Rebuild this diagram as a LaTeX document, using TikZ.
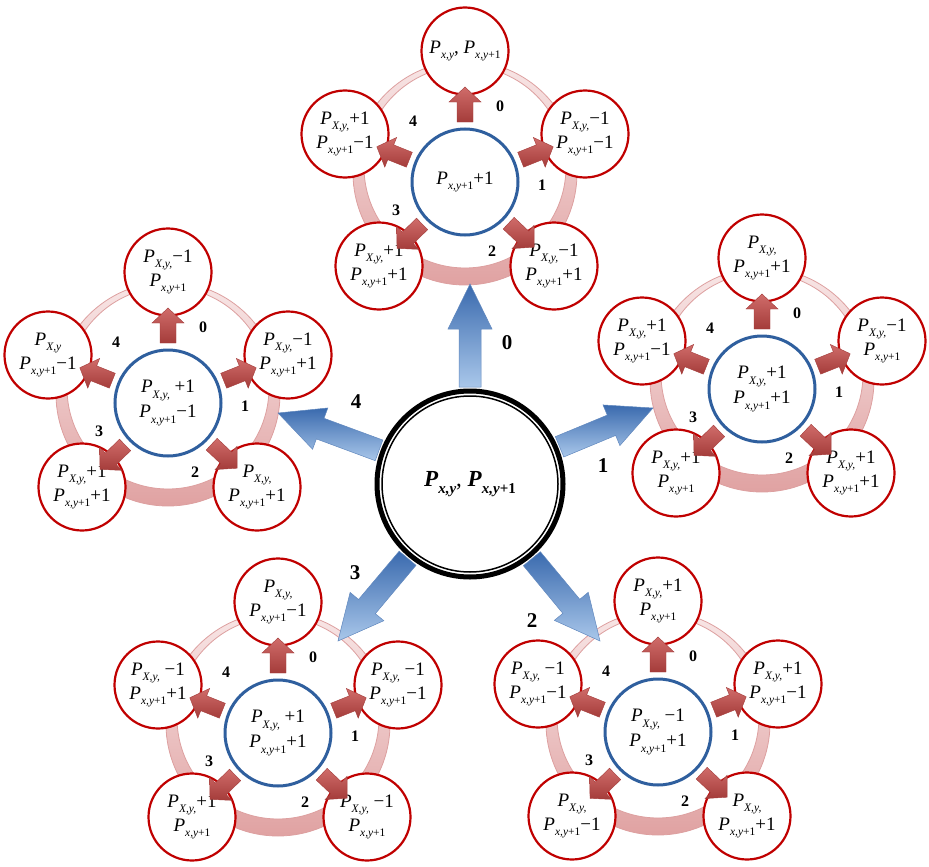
\documentclass[tikz,border=0pt]{standalone}
\usepackage{fontspec}
\setmainfont{Liberation Serif}
\usetikzlibrary{calc}
\definecolor{redline}{HTML}{C00000}
\definecolor{blueline}{HTML}{2F5F9E}
\definecolor{ringtop}{HTML}{F8E6E6}
\definecolor{ringbot}{HTML}{E0A2A2}
\definecolor{ringedge}{HTML}{DDA0A0}
\definecolor{rarrtop}{HTML}{D06C6A}
\definecolor{rarrbot}{HTML}{A43C3A}
\definecolor{barrtop}{HTML}{3A6AAE}
\definecolor{barrbot}{HTML}{A9C7EA}
\newcommand\PP[1]{\textit{P}\raisebox{-0.3em}{\fontsize{11.5}{11.5}\selectfont\itshape #1}}
\newcommand\PB[1]{\textbf{\textit{P}}\raisebox{-0.3em}{\fontsize{15}{15}\selectfont\bfseries\itshape #1}}
\tikzset{
  redc/.style={circle, draw=redline, line width=2.2pt, fill=white, minimum size=87pt, inner sep=0pt, align=center, font=\fontsize{19}{24}\selectfont},
  bluec/.style={circle, draw=blueline, line width=3pt, fill=white, minimum size=106pt, inner sep=0pt, align=center, font=\fontsize{19}{25}\selectfont},
  ringfill/.style={top color=ringtop, bottom color=ringbot, draw=ringedge, line width=0.8pt},
  num/.style={font=\fontsize{16}{16}\selectfont\bfseries, inner sep=0pt},
  bignum/.style={font=\fontsize{21}{21}\selectfont\bfseries, inner sep=0pt},
  redarrow/.style={top color=rarrtop, bottom color=rarrbot, draw=rarrbot, line width=0.4pt},
  bluearrow/.style={top color=barrtop, bottom color=barrbot, draw=barrtop!80!white, line width=0.5pt},
  maincirc/.style={circle, draw=black, line width=5pt, fill=white, minimum size=186pt, inner sep=0pt, align=center, font=\fontsize{23}{28}\selectfont}
}
% block arrow from #1 to #2: half shaft #3, half head #4, head length #5, style #6
\newcommand\blockarr[6]{%
  \coordinate (hb) at ($(#2)!#5!(#1)$);
  \path[#6] ($(#1)!#3!90:(#2)$) -- ($(hb)!#3!90:(#2)$) -- ($(hb)!#4!90:(#2)$) -- (#2)
     -- ($(hb)!#4!-90:(#2)$) -- ($(hb)!#3!-90:(#2)$) -- ($(#1)!#3!-90:(#2)$) -- cycle;}
\newcommand\redarr[2]{%
  \coordinate (ra) at ($(#1)!60pt!(#2)$);
  \coordinate (rb) at ($(#1)!95pt!(#2)$);
  \blockarr{ra}{rb}{8pt}{16pt}{15pt}{redarrow}}
\newcommand\cluster[9]{%
  \begin{scope}[shift={(#2,#3)}]
    \path[ringfill, even odd rule] (0,-9) circle[radius=112pt] (0,-15) circle[radius=101pt];
    \node[redc] (#1o0) at (0,-131) {#5};
    \node[redc] (#1o1) at (120,-48) {#6};
    \node[redc] (#1o2) at (89,84) {#7};
    \node[redc] (#1o3) at (-86,84) {#8};
    \node[redc] (#1o4) at (-120,-48) {#9};
    \node[bluec] (#1c) at (0,0) {#4};
    \foreach \k in {0,...,4} {\redarr{#1c}{#1o\k}}
    \node[num] (#1n0) at (35,-76) {0};
    \node[num] (#1n1) at (77,3) {1};
    \node[num] (#1n2) at (27,69) {2};
    \node[num] (#1n3) at (-69,28) {3};
    \node[num] (#1n4) at (-52,-61) {4};
  \end{scope}}
\begin{document}
\begin{tikzpicture}[x=1pt, y=-1pt]
\useasboundingbox (0,0) rectangle (929,867);
% clusters
\cluster{T}{465}{182}{\PP{x,y\upshape+1}+1}
  {\PP{x,y}, \PP{x,y\upshape+1}}
  {\PP{X,y,}−1\\\PP{x,y\upshape+1}−1}
  {\PP{X,y,}−1\\\PP{x,y\upshape+1}+1}
  {\PP{X,y,}+1\\\PP{x,y\upshape+1}+1}
  {\PP{X,y,}+1\\\PP{x,y\upshape+1}−1}
\cluster{L}{168}{403}{\PP{X,y,} +1\\\PP{x,y\upshape+1}−1}
  {\PP{X,y,}−1\\\PP{x,y\upshape+1}}
  {\PP{X,y,}−1\\\PP{x,y\upshape+1}+1}
  {\PP{X,y,}\\\PP{x,y\upshape+1}+1}
  {\PP{X,y,}+1\\\PP{x,y\upshape+1}+1}
  {\PP{X,y}\\\PP{x,y\upshape+1}−1}
\cluster{R}{762}{389}{\PP{X,y,}+1\\\PP{x,y\upshape+1}+1}
  {\PP{X,y,}\\\PP{x,y\upshape+1}+1}
  {\PP{X,y,}−1\\\PP{x,y\upshape+1}}
  {\PP{X,y,}+1\\\PP{x,y\upshape+1}+1}
  {\PP{X,y,}+1\\\PP{x,y\upshape+1}}
  {\PP{X,y,}+1\\\PP{x,y\upshape+1}−1}
\cluster{BL}{278}{733}{\PP{X,y,} +1\\\PP{x,y\upshape+1}+1}
  {\PP{X,y,}\\\PP{x,y\upshape+1}−1}
  {\PP{X,y,} −1\\\PP{x,y\upshape+1}−1}
  {\PP{X,y,} −1\\\PP{x,y\upshape+1}}
  {\PP{X,y,}+1\\\PP{x,y\upshape+1}}
  {\PP{X,y,} −1\\\PP{x,y\upshape+1}+1}
\cluster{BR}{658}{732}{\PP{X,y,} −1\\\PP{x,y\upshape+1}+1}
  {\PP{X,y,}+1\\\PP{x,y\upshape+1}}
  {\PP{X,y,}+1\\\PP{x,y\upshape+1}−1}
  {\PP{X,y,}\\\PP{x,y\upshape+1}+1}
  {\PP{X,y,}\\\PP{x,y\upshape+1}−1}
  {\PP{X,y,} −1\\\PP{x,y\upshape+1}−1}
% central node
\node[maincirc] (M) at (470,484) {\PB{x,y}, \PB{x,y\upshape+1}};
\draw[line width=1.5pt] (M.center) circle[radius=88pt];
% big blue arrows
\coordinate (tip0) at (470,284);
\coordinate (tip1) at (653,408);
\coordinate (tip2) at (600,641);
\coordinate (tip3) at (338,641);
\coordinate (tip4) at (278,413);
\foreach \k in {0,...,4} {
  \coordinate (tail\k) at ($(M)!97pt!(tip\k)$);
  \blockarr{tail\k}{tip\k}{11pt}{22pt}{45pt}{bluearrow}
}
\node[bignum] (a0) at (507,343) {0};
\node[bignum] (a1) at (603,466) {1};
\node[bignum] (a2) at (532,621) {2};
\node[bignum] (a3) at (355,573) {3};
\node[bignum] (a4) at (356,402) {4};
\end{tikzpicture}
\end{document}
